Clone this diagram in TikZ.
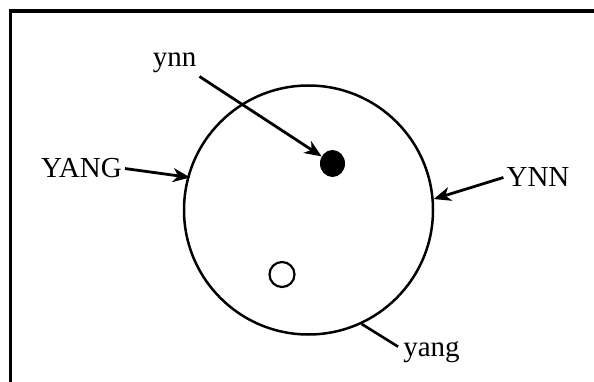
\documentclass[tikz,border=0pt]{standalone}
\usepackage{fontspec}
\setmainfont{Liberation Serif}
\usetikzlibrary{arrows.meta,shapes.geometric}
\begin{document}
\begin{tikzpicture}[x=1pt,y=-1pt,
  lbl/.style={inner sep=3pt,anchor=base,font=\fontsize{29}{31}\selectfont},
  arr/.style={line width=2.8pt,-{Stealth[length=17pt,width=14pt,inset=5pt]}},
  plain/.style={line width=2.6pt}]
\useasboundingbox (0,0) rectangle (594,382);
\fill[white] (0,0) rectangle (594,382);
\draw[line width=3.2pt] (10.5,384) -- (10.5,11) -- (596,11);
\node[draw,circle,line width=2.5pt,minimum size=249pt,inner sep=0pt] (circ) at (308.5,210) {};
\node[ellipse,fill=black,minimum width=25pt,minimum height=27pt,inner sep=0pt] (dot) at (332.5,163.5) {};
\node[draw,circle,line width=2.2pt,minimum size=25pt,inner sep=0pt] (odot) at (282,274.5) {};
\node[lbl] (ynn) at (174.5,67) {ynn};
\node[lbl] (YANG) at (81.5,178) {YANG};
\node[lbl] (YNN) at (538,187) {YNN};
\node[lbl,inner sep=5pt] (yang) at (431.5,356) {yang};
\draw[arr] (ynn.south east) -- (dot);
\draw[arr] (YANG.east) -- ([xshift=3pt]circ.165.8);
\draw[arr] (YNN.west) -- (circ.5.5);
\draw[plain] ([yshift=5pt]yang.west) -- (circ.-65.9);
\end{tikzpicture}
\end{document}
